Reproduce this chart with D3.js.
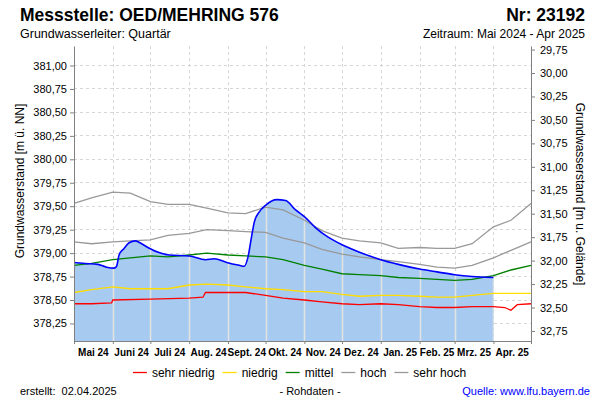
<!DOCTYPE html>
<html><head><meta charset="utf-8">
<script src="https://cdn.jsdelivr.net/npm/d3@7"></script>
<style>
body{margin:0;background:#fff;}
svg{display:block;font-family:"Liberation Sans",Arial,sans-serif;}
</style></head><body>
<svg id="chart" width="600" height="400"></svg>
<script>
// ---- data (m ü. NN) ----
const refDates = ["2024-05-01","2024-05-15","2024-06-01","2024-06-15","2024-07-01","2024-07-15","2024-08-01","2024-08-15","2024-09-01","2024-09-15","2024-10-01","2024-10-15","2024-11-01","2024-11-15","2024-12-01","2024-12-15","2025-01-01","2025-01-15","2025-02-01","2025-02-15","2025-03-01","2025-03-15","2025-04-01","2025-04-15","2025-05-01"];
const sehrHoch = [379.53,379.59,379.65,379.64,379.55,379.52,379.52,379.48,379.43,379.42,379.49,379.46,379.35,379.24,379.16,379.13,379.11,379.05,379.06,379.05,379.05,379.10,379.28,379.35,379.53];
const hoch     = [379.12,379.10,379.12,379.13,379.14,379.19,379.21,379.25,379.24,379.23,379.22,379.16,379.11,379.04,378.99,378.96,378.93,378.91,378.88,378.85,378.84,378.87,378.95,379.03,379.12];
const mittel   = [378.87,378.89,378.93,378.95,378.97,378.96,378.98,379.00,378.98,378.97,378.96,378.93,378.87,378.83,378.78,378.77,378.76,378.74,378.73,378.72,378.71,378.72,378.76,378.82,378.87];
const niedrig  = [378.58,378.61,378.64,378.62,378.62,378.62,378.66,378.67,378.66,378.64,378.62,378.61,378.59,378.59,378.56,378.54,378.55,378.55,378.54,378.53,378.53,378.55,378.57,378.57,378.57];
const snDates  = ["2024-05-01","2024-05-15","2024-05-31","2024-06-01","2024-07-01","2024-08-01","2024-08-12","2024-08-14","2024-09-01","2024-09-15","2024-10-01","2024-10-15","2024-11-01","2024-11-15","2024-12-01","2024-12-15","2025-01-01","2025-01-15","2025-02-01","2025-02-15","2025-03-01","2025-03-15","2025-04-01","2025-04-10","2025-04-15","2025-04-20","2025-05-01"];
const sehrNiedrig = [378.46,378.46,378.47,378.50,378.51,378.52,378.53,378.58,378.58,378.58,378.55,378.52,378.50,378.48,378.46,378.45,378.46,378.45,378.43,378.42,378.42,378.43,378.43,378.42,378.39,378.45,378.46];
const obsDates = ["2024-05-01","2024-05-10","2024-05-20","2024-05-27","2024-06-02","2024-06-04","2024-06-06","2024-06-10","2024-06-14","2024-06-19","2024-06-24","2024-06-29","2024-07-09","2024-07-16","2024-08-01","2024-08-14","2024-08-21","2024-08-31","2024-09-10","2024-09-14","2024-09-17","2024-09-20","2024-09-22","2024-09-26","2024-10-01","2024-10-10","2024-10-17","2024-10-25","2024-11-01","2024-11-10","2024-11-20","2024-12-01","2024-12-15","2025-01-01","2025-01-15","2025-02-01","2025-02-15","2025-03-01","2025-03-15","2025-04-01"];
const obsLevel = [378.90,378.89,378.88,378.85,378.84,378.86,378.98,379.05,379.11,379.13,379.10,379.06,379.00,378.98,378.97,378.93,378.94,378.90,378.87,378.86,378.96,379.19,379.33,379.44,379.51,379.57,379.56,379.46,379.39,379.27,379.17,379.09,379.01,378.93,378.88,378.83,378.80,378.77,378.75,378.74];
const leftTicks  = [378.25,378.50,378.75,379.00,379.25,379.50,379.75,380.00,380.25,380.50,380.75,381.00];
const rightTicks = [29.75,30.00,30.25,30.50,30.75,31.00,31.25,31.50,31.75,32.00,32.25,32.50,32.75];
const monthLabels = ["Mai 24","Juni 24","Juli 24","Aug. 24","Sept. 24","Okt. 24","Nov. 24","Dez. 24","Jan. 25","Feb. 25","Mrz. 25","Apr. 25"];
const groundLevel = 410.92;
const legendNames = ["sehr niedrig","niedrig","mittel","hoch","sehr hoch"];
const legendColors = ["#ff0000","#ffdd00","#008000","#999999","#999999"];

// ---- scales ----
const parse = d3.utcParse("%Y-%m-%d");
const t0 = parse("2024-05-01"), t1 = parse("2025-05-01");
const L = 74, R = 531, T = 46, B = 341;
const x = d3.scaleUtc().domain([t0, t1]).range([L, R]);
const y = d3.scaleLinear().domain([378.063, 381.208]).range([B, T]);
const yR = d3.scaleLinear().domain([groundLevel-378.063, groundLevel-381.208]).range([B, T]);
const fmt = v => d3.format(".2f")(v).replace(".", ",");

const svg = d3.select("#chart");
const mk = (dates, vals) => dates.map((d,i)=>({date:parse(d), v:vals[i]}));
const monthStarts = d3.utcMonth.range(t0, d3.utcDay.offset(t1,1));

// grid
const g = svg.append("g");
g.selectAll(".hg").data(leftTicks).join("line")
  .attr("x1", L).attr("x2", R).attr("y1", d=>y(d)).attr("y2", d=>y(d))
  .attr("stroke", "#d6d6d6").attr("stroke-dasharray", "3,3").attr("shape-rendering","crispEdges");
g.selectAll(".vg").data(monthStarts.slice(1,-1)).join("line")
  .attr("x1", d=>Math.round(x(d))+0.5).attr("x2", d=>Math.round(x(d))+0.5).attr("y1", T).attr("y2", B)
  .attr("stroke", "#d6d6d6").attr("stroke-dasharray", "3,3");

// area
const obs = mk(obsDates, obsLevel);
const area = d3.area().curve(d3.curveMonotoneX).x(d=>x(d.date)).y0(B).y1(d=>y(d.v));
svg.append("clipPath").attr("id","ac").append("path").attr("d", area(obs));
svg.append("path").attr("d", area(obs)).attr("fill", "#a6caf0");
svg.append("g").attr("clip-path","url(#ac)").selectAll("line").data(monthStarts.slice(1,-1)).join("line")
  .attr("x1", d=>Math.round(x(d))+0.5).attr("x2", d=>Math.round(x(d))+0.5).attr("y1", T).attr("y2", B)
  .attr("stroke", "#e2e2e2").attr("stroke-width", 1.6);

// reference lines
const line = d3.line().x(d=>x(d.date)).y(d=>y(d.v));
const series = [
  [mk(snDates, sehrNiedrig), legendColors[0]],
  [mk(refDates, niedrig), legendColors[1]],
  [mk(refDates, mittel), legendColors[2]],
  [mk(refDates, hoch), legendColors[3]],
  [mk(refDates, sehrHoch), legendColors[4]]
];
series.forEach(([d,c]) => svg.append("path").attr("d", line(d)).attr("fill","none").attr("stroke", c).attr("stroke-width", 1.3));
const obsLine = d3.line().curve(d3.curveMonotoneX).x(d=>x(d.date)).y(d=>y(d.v));
svg.append("path").attr("d", obsLine(obs)).attr("fill","none").attr("stroke","#0000ff").attr("stroke-width",1.6);

// axes
const axStyle = sel => {
  sel.selectAll("path.domain").attr("stroke","#808080");
  sel.selectAll(".tick line").attr("stroke","#808080");
  sel.selectAll("text").attr("fill","#000").style("font-size","11px").style("font-family",'"Liberation Sans",Arial,sans-serif');
};
svg.append("g").attr("transform",`translate(${L},0)`)
  .call(d3.axisLeft(y).tickValues(leftTicks).tickSize(4).tickSizeOuter(0).tickPadding(3).tickFormat(fmt)).call(axStyle);
svg.append("g").attr("transform",`translate(${R},0)`)
  .call(d3.axisRight(yR).tickValues(rightTicks).tickSize(4).tickSizeOuter(0).tickPadding(5).tickFormat(fmt)).call(axStyle);
svg.append("g").attr("transform",`translate(0,${B})`)
  .call(d3.axisBottom(x).tickValues(monthStarts).tickSize(3).tickSizeOuter(0).tickFormat("")).call(axStyle);
svg.append("g").selectAll("text").data(monthStarts.slice(0,-1)).join("text")
  .attr("x", (d,i)=> (x(d)+x(monthStarts[i+1]))/2).attr("y", 356)
  .attr("text-anchor","middle").style("font-size","10px").style("font-weight","bold").attr("fill","#000")
  .text((d,i)=>monthLabels[i]);

// axis titles
svg.append("text").attr("transform","translate(24,181) rotate(-90)").attr("text-anchor","middle")
  .style("font-size","12px").text("Grundwasserstand [m ü. NN]");
svg.append("text").attr("transform","translate(576,194) rotate(90)").attr("text-anchor","middle")
  .style("font-size","12px").text("Grundwasserstand [m u. Gelände]");

// header
svg.append("text").attr("x",20).attr("y",21).style("font-size","17.5px").style("font-weight","bold").text("Messstelle: OED/MEHRING 576");
svg.append("text").attr("x",585).attr("y",21).attr("text-anchor","end").style("font-size","17.5px").style("font-weight","bold").text("Nr: 23192");
svg.append("text").attr("x",20).attr("y",38).style("font-size","12.5px").text("Grundwasserleiter: Quartär");
svg.append("text").attr("x",585).attr("y",38).attr("text-anchor","end").style("font-size","12px").text("Zeitraum: Mai 2024 - Apr 2025");

// legend
const lg = svg.append("g");
let cx = 0;
legendNames.forEach((n,i)=>{
  lg.append("line").attr("x1",cx).attr("x2",cx+14).attr("y1",372.5).attr("y2",372.5).attr("stroke",legendColors[i]).attr("stroke-width",1.3);
  const t = lg.append("text").attr("x",cx+19).attr("y",377).style("font-size","12px").text(n);
  cx += 19 + t.node().getComputedTextLength() + 8;
});
lg.attr("transform",`translate(${299.5 - (cx-8)/2},0)`);

// footer
svg.append("text").attr("x",20).attr("y",395).style("font-size","11px").style("white-space","pre").text("erstellt:  02.04.2025");
svg.append("text").attr("x",310).attr("y",395).attr("text-anchor","middle").style("font-size","11px").text("- Rohdaten -");
svg.append("text").attr("x",590).attr("y",395).attr("text-anchor","end").style("font-size","11px").attr("fill","#0000ff").text("Quelle: www.lfu.bayern.de");
</script></body></html>
